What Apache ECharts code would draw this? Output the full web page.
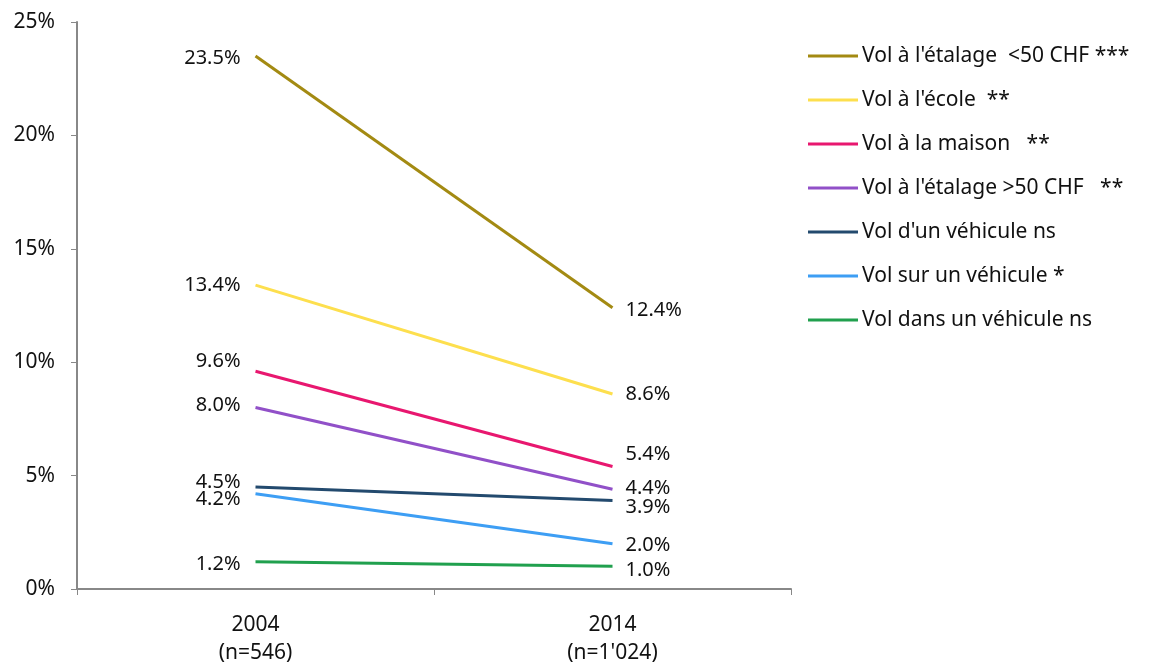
<!DOCTYPE html>
<html>
<head>
<meta charset="utf-8">
<script src="https://cdn.jsdelivr.net/npm/echarts@6/dist/echarts.min.js"></script>
<style>
  html, body { margin: 0; padding: 0; background: #fff; }
  #chart { width: 1149px; height: 667px; }
</style>
</head>
<body>
<div id="chart"></div>
<script>
// Survey years and sample sizes
const categories = ['2004\n(n=546)', '2014\n(n=1\'024)'];

// Share of respondents (%) for each kind of theft
const seriesNames = [
  'Vol à l\'étalage  <50 CHF ***',
  'Vol à l\'école  **',
  'Vol à la maison   **',
  'Vol à l\'étalage >50 CHF   **',
  'Vol d\'un véhicule ns',
  'Vol sur un véhicule *',
  'Vol dans un véhicule ns'
];
const etalageMoins50 = [23.5, 12.4];
const ecole = [13.4, 8.6];
const maison = [9.6, 5.4];
const etalagePlus50 = [8.0, 4.4];
const dUnVehicule = [4.5, 3.9];
const surUnVehicule = [4.2, 2.0];
const dansUnVehicule = [1.2, 1.0];

const yTicks = [0, 5, 10, 15, 20, 25];

const seriesValues = [etalageMoins50, ecole, maison, etalagePlus50, dUnVehicule, surUnVehicule, dansUnVehicule];
const colors = ['#A38A12', '#FDDF4E', '#E8176F', '#9150C8', '#234A6E', '#3D9EF4', '#21A04E'];

// Vertical nudges for the value labels so neighbouring labels do not overlap
const labelShiftLeft = [2, 0, -10, -2, -5, 6, 3];
const labelShiftRight = [3, 0, -12, -1, 7, 2, 4];

const FONT = '"Noto Sans", "Open Sans", sans-serif';

const series = seriesValues.map((vals, i) => ({
  name: seriesNames[i],
  type: 'line',
  symbol: 'circle',
  symbolSize: 0.01,
  showSymbol: true,
  color: colors[i],
  lineStyle: { width: 3, color: colors[i] },
  data: vals.map((v, j) => ({
    value: v,
    label: {
      show: true,
      position: j === 0 ? 'left' : 'right',
      distance: j === 0 ? 15 : 13,
      offset: [0, j === 0 ? labelShiftLeft[i] : labelShiftRight[i]],
      formatter: (p) => p.value.toFixed(1) + '%',
      color: '#111',
      fontSize: 20,
      fontFamily: FONT
    }
  })),
  emphasis: { disabled: true }
}));

const chart = echarts.init(document.getElementById('chart'), null, { renderer: 'canvas' });
chart.setOption({
  animation: false,
  backgroundColor: '#fff',
  grid: { left: 77, right: 358, top: 22, bottom: 75, containLabel: false },
  legend: {
    orient: 'vertical',
    left: 808,
    top: 45,
    padding: 0,
    itemWidth: 50,
    itemHeight: 14,
    itemGap: 22,
    icon: 'path://M0,6 L50,6 L50,9 L0,9 Z',
    textStyle: { fontSize: 21, lineHeight: 22, fontFamily: FONT, color: '#111', padding: [0, 0, 0, -1] },
    data: seriesNames
  },
  xAxis: {
    type: 'category',
    data: categories,
    boundaryGap: true,
    axisLine: { lineStyle: { color: '#888', width: 2 } },
    axisTick: { show: true, length: 6, lineStyle: { color: '#888', width: 1 } },
    axisLabel: { fontSize: 21, fontFamily: FONT, color: '#111', lineHeight: 28, margin: 22 }
  },
  yAxis: {
    type: 'value',
    min: yTicks[0],
    max: yTicks[yTicks.length - 1],
    interval: 5,
    splitLine: { show: false },
    axisLine: { show: true, lineStyle: { color: '#888', width: 2 } },
    axisTick: { show: true, length: 6, lineStyle: { color: '#888', width: 1 } },
    axisLabel: { fontSize: 21, fontFamily: FONT, color: '#111', margin: 22, formatter: '{value}%' }
  },
  series: series
});
</script>
</body>
</html>
